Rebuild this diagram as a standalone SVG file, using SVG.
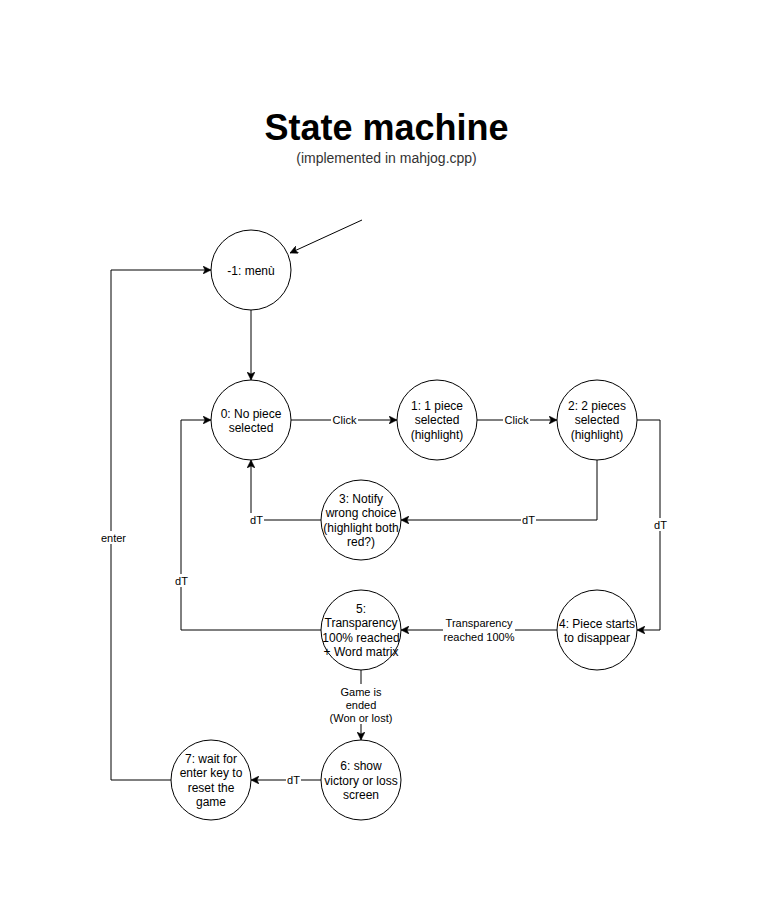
<svg xmlns="http://www.w3.org/2000/svg" width="770" height="921" viewBox="0 0 770 921">
<defs>
<style>
.node{fill:#fff;stroke:#000;stroke-width:1}
.nt{font-family:"Liberation Sans",Arial,sans-serif;font-size:12px;fill:#000;text-anchor:middle}
.edge{fill:none;stroke:#000;stroke-width:1}
.lb{font-family:"Liberation Sans",Arial,sans-serif;font-size:11px;fill:#000;text-anchor:middle}
.lbg{fill:#fff;stroke:none}
</style>
<marker id="arr" viewBox="0 0 8 8" refX="8" refY="4" markerWidth="8" markerHeight="8" markerUnits="userSpaceOnUse" orient="auto">
<path d="M0,0 L8,4 L0,8 L2,4 z" fill="#000" stroke="#000" stroke-width="0.5"/>
</marker>
</defs>
<rect width="770" height="921" fill="#fff"/>
<g id="title">
<text x="386.5" y="140" font-family="'Liberation Sans',Arial,sans-serif" font-size="36" font-weight="bold" text-anchor="middle" fill="#000">State machine</text>
<text x="386.5" y="163" font-family="'Liberation Sans',Arial,sans-serif" font-size="14" text-anchor="middle" fill="#333">(implemented in mahjog.cpp)</text>
</g>
<g id="connectors">
<path class="edge" d="M362,220 L290,253" marker-end="url(#arr)"/>
<path class="edge" d="M251,310 L251,380" marker-end="url(#arr)"/>
<path class="edge" d="M291,420 L397,420" marker-end="url(#arr)"/>
<path class="edge" d="M477,420 L557,420" marker-end="url(#arr)"/>
<path class="edge" d="M597,460 L597,520 L401,520" marker-end="url(#arr)"/>
<path class="edge" d="M321,520 L251,520 L251,460" marker-end="url(#arr)"/>
<path class="edge" d="M637,420 L660,420 L660,630 L637,630" marker-end="url(#arr)"/>
<path class="edge" d="M557,630 L401,630" marker-end="url(#arr)"/>
<path class="edge" d="M321,630 L181,630 L181,420 L211,420" marker-end="url(#arr)"/>
<path class="edge" d="M361,670 L361,740" marker-end="url(#arr)"/>
<path class="edge" d="M321,780 L251,780" marker-end="url(#arr)"/>
<path class="edge" d="M171,780 L111,780 L111,270 L211,270" marker-end="url(#arr)"/>
<g id="labels">
<rect class="lbg" x="331" y="413" width="27" height="13"/><text class="lb" x="344.5" y="424">Click</text>
<rect class="lbg" x="503" y="413" width="27" height="13"/><text class="lb" x="516.5" y="424">Click</text>
<rect class="lbg" x="521" y="513" width="15" height="13"/><text class="lb" x="528.5" y="524">dT</text>
<rect class="lbg" x="249" y="513" width="15" height="13"/><text class="lb" x="256.5" y="524">dT</text>
<rect class="lbg" x="653" y="518" width="15" height="13"/><text class="lb" x="660.5" y="529">dT</text>
<rect class="lbg" x="443" y="616" width="72" height="27"/><text class="lb" x="479" y="627">Transparency</text><text class="lb" x="479" y="640.5">reached 100%</text>
<rect class="lbg" x="174" y="574" width="15" height="13"/><text class="lb" x="181.5" y="585">dT</text>
<rect class="lbg" x="330" y="684" width="63" height="40"/><text class="lb" x="361" y="695.5">Game is</text><text class="lb" x="361" y="709">ended</text><text class="lb" x="361" y="722">(Won or lost)</text>
<rect class="lbg" x="286" y="773" width="15" height="13"/><text class="lb" x="293.5" y="784">dT</text>
<rect class="lbg" x="100" y="531" width="27" height="13"/><text class="lb" x="113.5" y="541.5">enter</text>
</g>
</g>
<g id="s-1"><circle class="node" cx="251" cy="270" r="40"/><text class="nt" x="251" y="274.5">-1: menù</text></g>
<g id="s0"><circle class="node" cx="251" cy="420" r="40"/><text class="nt" x="251" y="417.5">0: No piece</text><text class="nt" x="251" y="432">selected</text></g>
<g id="s1"><circle class="node" cx="437" cy="420" r="40"/><text class="nt" x="437" y="409.5">1: 1 piece</text><text class="nt" x="437" y="424">selected</text><text class="nt" x="437" y="438.5">(highlight)</text></g>
<g id="s2"><circle class="node" cx="597" cy="420" r="40"/><text class="nt" x="597" y="409.5">2: 2 pieces</text><text class="nt" x="597" y="424">selected</text><text class="nt" x="597" y="438.5">(highlight)</text></g>
<g id="s3"><circle class="node" cx="361" cy="520" r="40"/><text class="nt" x="361" y="502.5">3: Notify</text><text class="nt" x="361" y="517">wrong choice</text><text class="nt" x="361" y="531.5">(highlight both</text><text class="nt" x="361" y="546">red?)</text></g>
<g id="s4"><circle class="node" cx="597" cy="630" r="40"/><text class="nt" x="597" y="627.5">4: Piece starts</text><text class="nt" x="597" y="642">to disappear</text></g>
<g id="s5"><circle class="node" cx="361" cy="630" r="40"/><text class="nt" x="361" y="612.5">5:</text><text class="nt" x="361" y="627">Transparency</text><text class="nt" x="361" y="641.5">100% reached</text><text class="nt" x="361" y="656">+ Word matrix</text></g>
<g id="s6"><circle class="node" cx="361" cy="780" r="40"/><text class="nt" x="361" y="770">6: show</text><text class="nt" x="361" y="784.5">victory or loss</text><text class="nt" x="361" y="799">screen</text></g>
<g id="s7"><circle class="node" cx="211" cy="780" r="40"/><text class="nt" x="211" y="762.5">7: wait for</text><text class="nt" x="211" y="777">enter key to</text><text class="nt" x="211" y="791.5">reset the</text><text class="nt" x="211" y="806">game</text></g>
</svg>
